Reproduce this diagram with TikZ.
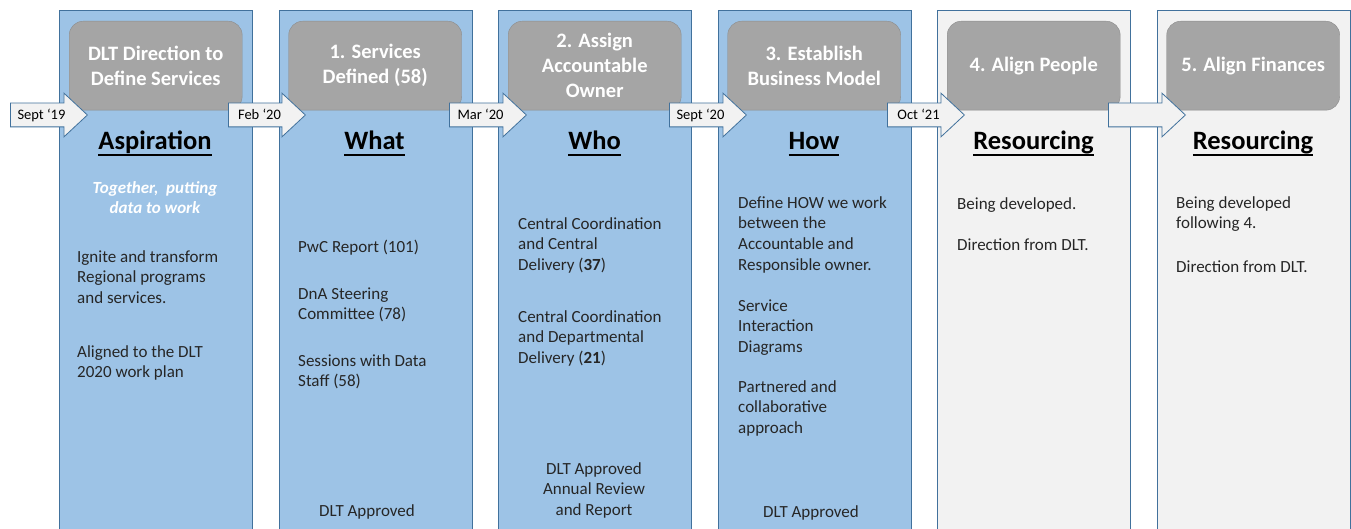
\documentclass[tikz,border=0pt]{standalone}
\usepackage{fontspec}
\setmainfont{Carlito}
\usepackage{xcolor}
\usepackage{tikz}
\usetikzlibrary{shapes.arrows, positioning}

\definecolor{colblue}{HTML}{9DC3E6}
\definecolor{edgeblue}{HTML}{41719C}
\definecolor{pale}{HTML}{F2F2F2}
\definecolor{boxgray}{HTML}{A5A5A5}
\definecolor{boxedge}{HTML}{8C8C8C}
\definecolor{ink}{HTML}{262626}

\newcommand{\ulword}[1]{\setbox0=\hbox{#1}\rlap{\copy0}\raisebox{-6.5pt}{\rule{\wd0}{1.8pt}}}

\begin{document}
\begin{tikzpicture}[x=1pt, y=-1pt,
    phase/.style={rectangle, draw=edgeblue, line width=0.8pt, fill=colblue, minimum width=193pt, minimum height=525pt, anchor=north west, inner sep=0pt},
    later/.style={phase, fill=pale},
    stage/.style={rectangle, rounded corners=14pt, draw=boxedge, fill=boxgray, minimum width=173pt, minimum height=89pt, anchor=north west, align=center, text=white, font=\fontsize{20.5}{25}\selectfont\bfseries},
    datearrow/.style={single arrow, draw=edgeblue, fill=pale, line width=0.8pt, minimum height=77pt, inner xsep=0pt, inner ysep=11.5pt, single arrow head extend=10pt, single arrow tip angle=86, single arrow head indent=0pt, anchor=tail},
    date/.style={font=\fontsize{14.5}{17}\selectfont, text=black, inner sep=0pt, anchor=base},
    heading/.style={font=\fontsize{26.5}{30}\selectfont\bfseries, text=black, anchor=base, inner sep=0pt},
    body/.style={font=\fontsize{17}{20.7}\selectfont, text=ink, align=left, anchor=north west, inner sep=0pt},
    motto/.style={body, align=center, anchor=north, text=white, font=\fontsize{17}{20}\selectfont\bfseries\itshape},
    approved/.style={body, align=center, anchor=north},
]
\useasboundingbox (0,0) rectangle (1351,529);
\clip (0,0) rectangle (1351,529);

% phase columns
\node[phase] (col1) at (59,10) {};
\node[phase] (col2) at (278.5,10) {};
\node[phase] (col3) at (498,10) {};
\node[phase] (col4) at (717.5,10) {};
\node[later] (col5) at (937,10) {};
\node[later] (col6) at (1156.5,10) {};

% stage titles
\node[stage] (stage1) at ([xshift=10pt,yshift=-11pt]col1.north west) {DLT Direction to\\Define Services};
\node[stage] (stage2) at ([xshift=10pt,yshift=-11pt]col2.north west) {1. Services\\Defined (58)};
\node[stage] (stage3) at ([xshift=10pt,yshift=-11pt]col3.north west) {2. Assign\\Accountable\\Owner};
\node[stage] (stage4) at ([xshift=10pt,yshift=-11pt]col4.north west) {3. Establish\\Business Model};
\node[stage] (stage5) at ([xshift=10pt,yshift=-11pt]col5.north west) {4. Align People};
\node[stage] (stage6) at ([xshift=10pt,yshift=-11pt]col6.north west) {5. Align Finances};

% timeline arrows
\node[datearrow] (arr1) at (10,115) {};
\node[datearrow] (arr2) at (228,115) {};
\node[datearrow] (arr3) at (449,115) {};
\node[datearrow] (arr4) at (669,115) {};
\node[datearrow] (arr5) at (887,115) {};
\node[datearrow] (arr6) at (1108,115) {};
\node[date] (date1) at (41.5,120) {Sept ‘19};
\node[date] (date2) at (259.5,120) {Feb ‘20};
\node[date] (date3) at (480.5,120) {Mar ‘20};
\node[date] (date4) at (700.5,120) {Sept ‘20};
\node[date] (date5) at (918.5,120) {Oct ‘21};

% headings
\node[heading] (head1) at (155,149.5) {\ulword{Aspiration}};
\node[heading] (head2) at (374.5,149.5) {\ulword{What}};
\node[heading] (head3) at (594.5,149.5) {\ulword{Who}};
\node[heading] (head4) at (814,149.5) {\ulword{How}};
\node[heading] (head5) at (1033.5,149.5) {\ulword{Resourcing}};
\node[heading] (head6) at (1253,149.5) {\ulword{Resourcing}};

% column texts (first line carries a strut, so y = baseline - 14.5)
\node[motto] (motto) at (155,179) {\strut Together,\ \ putting\\data to work};
\node[body] (aim1) at (77,247.5) {\strut Ignite and transform\\Regional programs\\and services.};
\node[body] (aim2) at (77,342.5) {\strut Aligned to the DLT\\2020 work plan};

\node[body] (what1) at (298,237.5) {\strut PwC Report (101)};
\node[body] (what2) at (298,284.5) {\strut DnA Steering\\Committee (78)};
\node[body] (what3) at (298,351.5) {\strut Sessions with Data\\Staff (58)};
\node[approved] (what4) at (367,501.5) {\strut DLT Approved};

\node[body] (who1) at (518,214.5) {\strut Central Coordination\\and Central\\Delivery (\textbf{37})};
\node[body] (who2) at (518,307.5) {\strut Central Coordination\\and Departmental\\Delivery (\textbf{21})};
\node[approved] (who3) at (594,459.5) {\strut DLT Approved\\Annual Review\\and Report};

\node[body] (how1) at (738,193.5) {\strut Define HOW we work\\between the\\Accountable and\\Responsible owner.};
\node[body] (how2) at (738,296.5) {\strut Service\\Interaction\\Diagrams};
\node[body] (how3) at (738,377.5) {\strut Partnered and\\collaborative\\approach};
\node[approved] (how4) at (811,502.5) {\strut DLT Approved};

\node[body] (people1) at (957,194.5) {\strut Being developed.};
\node[body] (people2) at (957,235.5) {\strut Direction from DLT.};

\node[body] (money1) at (1176,193.5) {\strut Being developed\\following 4.};
\node[body] (money2) at (1176,257.5) {\strut Direction from DLT.};
\end{tikzpicture}
\end{document}
